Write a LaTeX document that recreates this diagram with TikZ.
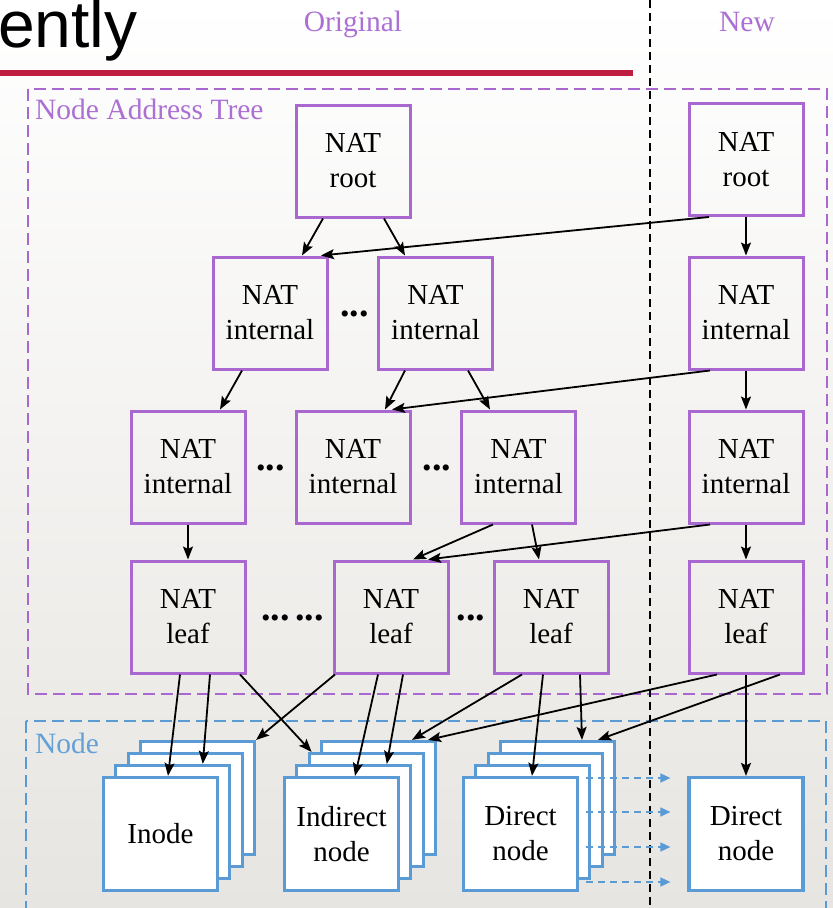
\documentclass[tikz,border=0pt]{standalone}
\usepackage{fontspec}
\setmainfont{Liberation Serif}
\newfontfamily\headfont{Liberation Sans}
\usetikzlibrary{arrows.meta}
\definecolor{natpurple}{RGB}{168,104,208}
\definecolor{labelpurple}{RGB}{172,112,212}
\definecolor{nodeblue}{RGB}{91,155,213}
\definecolor{labelblue}{RGB}{100,160,216}
\definecolor{barred}{RGB}{192,30,64}
\definecolor{bgbottom}{RGB}{231,229,225}

\begin{document}
\begin{tikzpicture}[x=1pt,y=-1pt,
  nat/.style={draw=natpurple, line width=3pt, minimum width=114pt, minimum height=112pt,
    inner sep=0pt, align=center, text=black, font=\fontsize{29}{35}\selectfont},
  blk/.style={draw=nodeblue, line width=3.2pt, fill=white, minimum width=114pt, minimum height=113pt,
    inner sep=0pt, align=center, text=black, font=\fontsize{29}{35}\selectfont},
  dots/.style={anchor=base, inner sep=0pt, font=\bfseries\fontsize{38}{40}\selectfont},
  link/.style={line width=1.8pt, -{Stealth[length=13pt,width=10pt,inset=2.5pt]}},
  bluelink/.style={line width=1.6pt, draw=nodeblue, dash pattern=on 7pt off 5pt,
    -{Triangle[length=10pt,width=9pt,fill=nodeblue]}},
  region/.style={line width=1.6pt, dash pattern=on 12pt off 6pt},
  regionlabel/.style={anchor=base west, inner sep=0pt, font=\fontsize{29.5}{35}\selectfont},
  header/.style={anchor=base, inner sep=0pt, text=labelpurple, font=\fontsize{29.5}{35}\selectfont}
]
\useasboundingbox (0,0) rectangle (833,908);

% background
\shade[top color=white, bottom color=bgbottom] (0,0) rectangle (833,908);

% slide heading and rule
\node[anchor=base west, inner sep=0pt, font=\headfont\fontsize{66}{70}\selectfont] (title) at (-2,47) {ently};
\fill[barred] (0,70) rectangle (633,76);

% column headers
\node[header] (hOrig) at (353,31) {Original};
\node[header] (hNew) at (747,31) {New};

% regions
\draw[region, natpurple] (28,89) rectangle (827,694);
\node[regionlabel, text=labelpurple] (natlabel) at (35,119) {Node Address Tree};
\draw[region, nodeblue] (26,721) rectangle (826,930);
\node[regionlabel, text=labelblue] (nodelabel) at (35,753) {Node};

% separator between the two columns
\coordinate (sepTop) at (650,0);
\coordinate (sepBot) at (650,908);
\draw[line width=1.5pt, dash pattern=on 8pt off 5pt] (sepTop) -- (sepBot);

% NAT tree, original
\node[nat] (r0) at (353,161) {NAT\\root};
\node[nat] (i1) at (270,313) {NAT\\internal};
\node[nat] (i2) at (435.5,313) {NAT\\internal};
\node[nat] (j1) at (188,467) {NAT\\internal};
\node[nat] (j2) at (353,467) {NAT\\internal};
\node[nat] (j3) at (518.5,467) {NAT\\internal};
\node[nat] (l1) at (188,617) {NAT\\leaf};
\node[nat] (l2) at (391,617) {NAT\\leaf};
\node[nat] (l3) at (551,617) {NAT\\leaf};

% NAT tree, new
\node[nat] (rN) at (746,159.5) {NAT\\root};
\node[nat] (iN) at (746,313) {NAT\\internal};
\node[nat] (jN) at (746,467) {NAT\\internal};
\node[nat] (lN) at (746,617) {NAT\\leaf};

% elisions
\node[dots] (e1) at (354.5,316) {...};
\node[dots] (e2) at (270.5,470) {...};
\node[dots] (e3) at (437,470) {...};
\node[dots] (e4) at (292.5,620) {...\kern6pt...};
\node[dots] (e5) at (471,620) {...};

% node blocks (stacks drawn back to front)
\node[blk] (I3) at (197.5,798) {};
\node[blk] (I2) at (185.2,810) {};
\node[blk] (I1) at (172.8,822) {};
\node[blk] (I0) at (160.5,834) {Inode};

\node[blk] (N3) at (378.5,798) {};
\node[blk] (N2) at (366.2,810) {};
\node[blk] (N1) at (353.8,822) {};
\node[blk] (N0) at (341.5,834) {Indirect\\node};

\node[blk] (D3) at (557.5,798) {};
\node[blk] (D2) at (545.2,810) {};
\node[blk] (D1) at (532.8,822) {};
\node[blk] (D0) at (520.5,834) {Direct\\node};

\node[blk] (dN) at (746,834) {Direct\\node};

% root -> internal
\draw[link] ([xshift=-30pt]r0.south) -- ([xshift=32pt]i1.north);
\draw[link] ([xshift=31pt]r0.south) -- ([xshift=-30.5pt]i2.north);
\draw[link] ([xshift=-37pt]rN.south) -- ([xshift=51pt]i1.north);
\draw[link] (rN.south) -- (iN.north);

% internal -> internal
\draw[link] ([xshift=-28pt]i1.south) -- ([xshift=32pt]j1.north);
\draw[link] ([xshift=-30.5pt]i2.south) -- ([xshift=32pt]j2.north);
\draw[link] ([xshift=32.5pt]i2.south) -- ([xshift=-28.5pt]j3.north);
\draw[link] ([xshift=-36pt]iN.south) -- ([xshift=39pt]j2.north);
\draw[link] (iN.south) -- (jN.north);

% internal -> leaf
\draw[link] (j1.south) -- (l1.north);
\draw[link] ([xshift=-25.5pt]j3.south) -- ([xshift=22pt]l2.north);
\draw[link] ([xshift=13.5pt]j3.south) -- ([xshift=-12pt]l3.north);
\draw[link] ([xshift=-36pt]jN.south) -- ([xshift=37pt]l2.north);
\draw[link] (jN.south) -- (lN.north);

% leaf -> node blocks
\draw[link] ([xshift=-8pt]l1.south) -- ([xshift=7.5pt]I0.north);
\draw[link] ([xshift=22pt]l1.south) -- ([xshift=30pt]I1.north);
\draw[link] ([xshift=52pt]l1.south) -- ([xshift=4pt]N2.north west);
\draw[link] ([xshift=-56pt]l2.south) -- (I3.north east);
\draw[link] ([xshift=-13pt]l2.south) -- ([xshift=13.5pt]N0.north);
\draw[link] ([xshift=12pt]l2.south) -- ([xshift=33pt]N1.north);
\draw[link] ([xshift=-29pt]l3.south) -- ([xshift=33.5pt]N3.north);
\draw[link] ([xshift=-8pt]l3.south) -- ([xshift=11.5pt]D0.north);
\draw[link] ([xshift=29pt]l3.south) -- ([xshift=24.5pt]D3.north);
\draw[link] ([xshift=-29pt]lN.south) -- ([xshift=49.5pt]N3.north);
\draw[link] ([xshift=34pt]lN.south) -- ([xshift=40.5pt]D3.north);
\draw[link] (lN.south) -- (dN.north);

% direct nodes merged into the new direct node
\draw[bluelink] ([xshift=7pt,yshift=56pt]D0.east) -- ([xshift=-17pt,yshift=56pt]dN.west);
\draw[bluelink] ([xshift=7pt,yshift=22pt]D0.east) -- ([xshift=-17pt,yshift=22pt]dN.west);
\draw[bluelink] ([xshift=7pt,yshift=-13pt]D0.east) -- ([xshift=-17pt,yshift=-13pt]dN.west);
\draw[bluelink] ([xshift=7pt,yshift=-48pt]D0.east) -- ([xshift=-17pt,yshift=-48pt]dN.west);
\end{tikzpicture}
\end{document}
